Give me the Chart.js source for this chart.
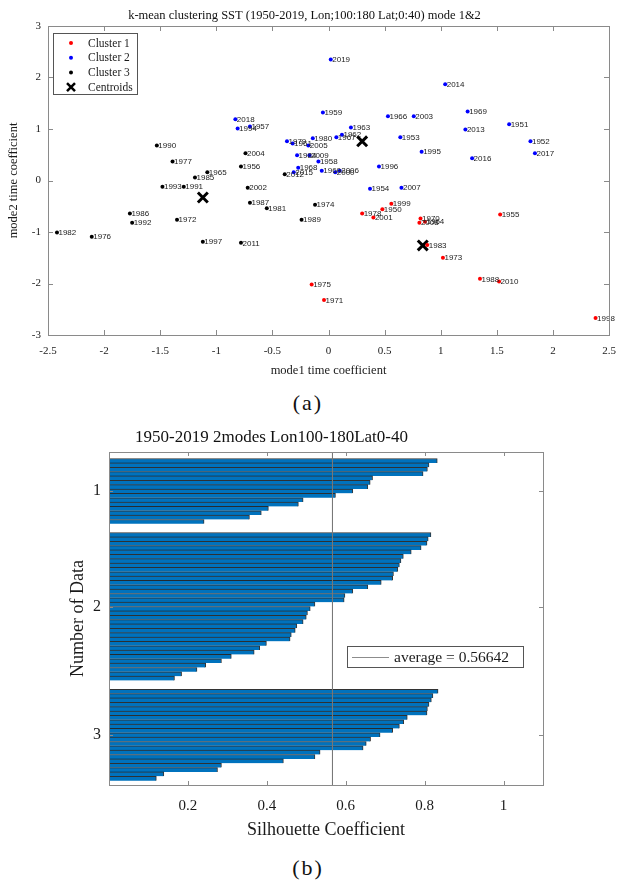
<!DOCTYPE html>
<html>
<head>
<meta charset="utf-8">
<script src="https://cdn.jsdelivr.net/npm/chart.js@4.4.0/dist/chart.umd.min.js"></script>
<style>
html, body { margin: 0; padding: 0; background: #fff; }
#wrap { position: relative; width: 628px; height: 881px; overflow: hidden; }
#boxA { position: absolute; left: 0; top: 0; width: 628px; height: 390px; }
#boxB { position: absolute; left: 0; top: 418px; width: 628px; height: 425px; }
.cap { position: absolute; left: -6px; width: 628px; text-align: center;
       font: 22px "Liberation Serif", serif; letter-spacing: 2px; color: #111; line-height: 26px; }
</style>
</head>
<body>
<div id="wrap">
  <div id="boxA"><canvas id="scatter"></canvas></div>
  <div class="cap" style="top:390px">(a)</div>
  <div id="boxB"><canvas id="silh"></canvas></div>
  <div class="cap" style="top:855px">(b)</div>
</div>
<script>
// ---- (a) k-means scatter ----
const c1Years = [1950, 1955, 1964, 1970, 1971, 1973, 1975, 1978, 1983, 1988, 1998, 1999, 2001, 2008, 2010];
const c1X = [0.48, 1.53, 0.86, 0.82, -0.04, 1.02, -0.15, 0.30, 0.88, 1.35, 2.38, 0.56, 0.40, 0.81, 1.52];
const c1Y = [-0.56, -0.66, -0.80, -0.74, -2.32, -1.50, -2.02, -0.64, -1.25, -1.91, -2.67, -0.45, -0.72, -0.82, -1.96];

const c2Years = [1951, 1952, 1953, 1954, 1957, 1958, 1959, 1960, 1961, 1962, 1963, 1966, 1967, 1968, 1969, 1979, 1980,
                 1984, 1994, 1995, 1996, 2000, 2003, 2005, 2006, 2007, 2009, 2013, 2014, 2015, 2016, 2017, 2018, 2019];
const c2X = [1.61, 1.80, 0.64, 0.37, -0.70, -0.09, -0.05, -0.06, -0.32, 0.12, 0.20, 0.53, 0.07, -0.27, 1.24, -0.37, -0.14,
             -0.28, -0.81, 0.83, 0.45, 0.06, 0.76, -0.18, 0.10, 0.65, -0.17, 1.22, 1.04, -0.31, 1.28, 1.84, -0.83, 0.02];
const c2Y = [1.09, 0.76, 0.84, -0.16, 1.05, 0.37, 1.32, 0.19, 0.72, 0.89, 1.03, 1.25, 0.84, 0.25, 1.34, 0.76, 0.82,
             0.49, 1.01, 0.56, 0.27, 0.16, 1.25, 0.68, 0.19, -0.14, 0.49, 0.99, 1.87, 0.16, 0.43, 0.53, 1.19, 2.35];

const c3Years = [1956, 1965, 1972, 1974, 1976, 1977, 1981, 1982, 1985, 1986, 1987, 1989, 1990, 1991, 1992, 1993, 1997, 2002, 2004, 2011, 2012];
const c3X = [-0.78, -1.08, -1.35, -0.12, -2.11, -1.39, -0.55, -2.42, -1.19, -1.77, -0.70, -0.24, -1.53, -1.29, -1.75, -1.48, -1.12, -0.72, -0.74, -0.78, -0.39];
const c3Y = [0.27, 0.16, -0.76, -0.47, -1.09, 0.37, -0.54, -1.01, 0.06, -0.64, -0.43, -0.76, 0.68, -0.12, -0.82, -0.12, -1.19, -0.14, 0.53, -1.21, 0.12];

const centX = [0.84, 0.30, -1.12];
const centY = [-1.26, 0.76, -0.33];

const xTicksA = [-2.5, -2, -1.5, -1, -0.5, 0, 0.5, 1, 1.5, 2, 2.5];
const yTicksA = [-3, -2, -1, 0, 1, 2, 3];

// ---- (b) silhouette values per cluster (sorted) ----
const sil1 = [0.832, 0.811, 0.807, 0.796, 0.668, 0.662, 0.656, 0.618, 0.574, 0.492, 0.480, 0.404, 0.386, 0.356, 0.241];
const sil2 = [0.816, 0.809, 0.806, 0.791, 0.766, 0.746, 0.740, 0.736, 0.732, 0.721, 0.719, 0.690, 0.656, 0.618, 0.598, 0.596,
              0.522, 0.510, 0.503, 0.500, 0.492, 0.476, 0.472, 0.462, 0.459, 0.399, 0.382, 0.368, 0.310, 0.285, 0.245, 0.223, 0.184, 0.166];
const sil3 = [0.834, 0.821, 0.817, 0.811, 0.807, 0.806, 0.756, 0.747, 0.736, 0.719, 0.687, 0.663, 0.652, 0.644,
              0.535, 0.522, 0.442, 0.285, 0.275, 0.139, 0.120];
const clusterNames = ['1', '2', '3'];
const xTicksB = [0.2, 0.4, 0.6, 0.8, 1];
const silAverage = 0.56642;

const serif = '"Liberation Serif", "Times New Roman", serif';
const inkColor = '#1a1a1a';

const pts = (xs, ys) => xs.map((v, i) => ({ x: v, y: ys[i] }));

// MATLAB-like box with inward ticks on all four sides
const boxFrame = {
    id: 'boxFrame',
    afterDraw(chart, args, opts) {
        const { ctx, chartArea: { left, right, top, bottom }, scales: { x, y } } = chart;
        const len = opts.len || 5;
        ctx.save();
        ctx.strokeStyle = opts.color || '#8a8a8a';
        ctx.lineWidth = 1;
        ctx.beginPath();
        x.ticks.forEach(t => {
            const px = Math.round(x.getPixelForValue(t.value)) + 0.5;
            ctx.moveTo(px, bottom); ctx.lineTo(px, bottom - len);
            ctx.moveTo(px, top); ctx.lineTo(px, top + len);
        });
        y.ticks.forEach(t => {
            const py = Math.round(y.getPixelForValue(t.value)) + 0.5;
            ctx.moveTo(left, py); ctx.lineTo(left + len, py);
            ctx.moveTo(right, py); ctx.lineTo(right - len, py);
        });
        ctx.stroke();
        ctx.strokeRect(Math.round(left) + 0.5, Math.round(top) + 0.5, Math.round(right - left), Math.round(bottom - top));
        ctx.restore();
    }
};

// year text next to every scatter point
const yearLabels = {
    id: 'yearLabels',
    afterDatasetsDraw(chart) {
        const ctx = chart.ctx;
        ctx.save();
        ctx.font = '8px "Liberation Sans", Arial, sans-serif';
        ctx.fillStyle = '#222';
        ctx.textBaseline = 'middle';
        chart.data.datasets.forEach((ds, i) => {
            if (!ds.years) return;
            chart.getDatasetMeta(i).data.forEach((pt, j) => {
                ctx.fillText(String(ds.years[j]), pt.x + 1.5, pt.y + 0.5);
            });
        });
        ctx.restore();
    }
};

// legend boxes drawn inside the plot area
const scatterLegend = {
    id: 'scatterLegend',
    afterDraw(chart) {
        const ctx = chart.ctx;
        const bx = 53, by = 33, bw = 84, bh = 61;
        ctx.save();
        ctx.fillStyle = '#fff';
        ctx.fillRect(bx, by, bw, bh);
        ctx.strokeStyle = '#555';
        ctx.lineWidth = 1;
        ctx.strokeRect(bx + 0.5, by + 0.5, bw, bh);
        ctx.font = '11.5px ' + serif;
        ctx.textBaseline = 'middle';
        chart.data.datasets.forEach((ds, i) => {
            const cy = by + 10 + i * 14.7;
            const mx = bx + 18;
            if (ds.years) {
                ctx.fillStyle = ds.pointBackgroundColor;
                ctx.beginPath(); ctx.arc(mx, cy, 2, 0, Math.PI * 2); ctx.fill();
            } else {
                ctx.strokeStyle = '#000'; ctx.lineWidth = 2.5;
                ctx.beginPath();
                ctx.moveTo(mx - 4, cy - 4); ctx.lineTo(mx + 4, cy + 4);
                ctx.moveTo(mx + 4, cy - 4); ctx.lineTo(mx - 4, cy + 4);
                ctx.stroke();
            }
            ctx.fillStyle = inkColor;
            ctx.fillText(ds.label, bx + 35, cy + 0.5);
        });
        ctx.restore();
    }
};

const avgLegend = {
    id: 'avgLegend',
    afterDraw(chart) {
        const ctx = chart.ctx;
        const bx = 347, by = 228, bw = 176, bh = 21;
        ctx.save();
        ctx.fillStyle = '#fff';
        ctx.fillRect(bx, by, bw, bh);
        ctx.strokeStyle = '#555';
        ctx.lineWidth = 1;
        ctx.strokeRect(bx + 0.5, by + 0.5, bw, bh);
        ctx.strokeStyle = '#8c8c8c';
        ctx.beginPath(); ctx.moveTo(bx + 5, by + 11.5); ctx.lineTo(bx + 42, by + 11.5); ctx.stroke();
        ctx.font = '15.5px ' + serif;
        ctx.fillStyle = inkColor;
        ctx.textBaseline = 'middle';
        ctx.fillText('average = ' + silAverage, bx + 47, by + 11.5);
        ctx.restore();
    }
};

new Chart(document.getElementById('scatter'), {
    type: 'scatter',
    data: {
        datasets: [
            { label: 'Cluster 1', data: pts(c1X, c1Y), years: c1Years, pointBackgroundColor: '#ff0000', pointBorderWidth: 0, pointRadius: 2 },
            { label: 'Cluster 2', data: pts(c2X, c2Y), years: c2Years, pointBackgroundColor: '#0000ff', pointBorderWidth: 0, pointRadius: 2 },
            { label: 'Cluster 3', data: pts(c3X, c3Y), years: c3Years, pointBackgroundColor: '#000000', pointBorderWidth: 0, pointRadius: 2 },
            { label: 'Centroids', data: pts(centX, centY), pointStyle: 'crossRot', pointRadius: 7, pointBorderWidth: 3, pointBorderColor: '#000' }
        ]
    },
    options: {
        responsive: true,
        maintainAspectRatio: false,
        animation: false,
        layout: { padding: { left: 0, right: 19, top: 0, bottom: 0 } },
        plugins: {
            legend: { display: false },
            tooltip: { enabled: false },
            title: {
                display: true,
                text: 'k-mean clustering SST (1950-2019, Lon;100:180 Lat;0:40) mode 1&2',
                font: { family: serif, size: 12.5, weight: 'normal' },
                color: '#111',
                padding: { top: 8, bottom: 3 }
            },
            boxFrame: { len: 5 }
        },
        scales: {
            x: {
                type: 'linear', min: -2.5, max: 2.5, offset: false,
                grid: { display: false, drawTicks: false },
                border: { display: false },
                afterBuildTicks: s => { s.ticks = xTicksA.map(v => ({ value: v })); },
                afterFit: s => { s.height = 55; },
                ticks: { font: { family: serif, size: 11 }, color: inkColor, padding: 10, maxRotation: 0, autoSkip: false, callback: v => String(v) },
                title: { display: true, text: 'mode1 time coefficient', font: { family: serif, size: 12.5 }, color: inkColor, padding: { top: 0, bottom: 11.5 } }
            },
            y: {
                type: 'linear', min: -3, max: 3, offset: false,
                grid: { display: false, drawTicks: false },
                border: { display: false },
                afterBuildTicks: s => { s.ticks = yTicksA.map(v => ({ value: v })); },
                afterFit: s => { s.width = 48; },
                ticks: { font: { family: serif, size: 11 }, color: inkColor, padding: 7, autoSkip: false, callback: v => String(v) },
                title: { display: true, text: 'mode2 time coefficient', font: { family: serif, size: 12.5 }, color: inkColor, padding: { top: 6.5, bottom: 0 } }
            }
        }
    },
    plugins: [boxFrame, yearLabels, scatterLegend]
});

// bar rows: clusters stacked top to bottom with a gap of two rows
const silClusters = [sil1, sil2, sil3];
const barRows = [];
const clusterCenters = [];
let row = 2;
silClusters.forEach(vals => {
    const first = row;
    vals.forEach(v => { barRows.push({ x: v, y: row }); row++; });
    clusterCenters.push((first + row - 1) / 2);
    row += 2;
});
const rowMax = row - 1.5;

new Chart(document.getElementById('silh'), {
    type: 'bar',
    data: {
        datasets: [
            {
                type: 'bar', data: barRows, order: 2,
                backgroundColor: 'rgb(0,114,189)',
                borderColor: 'rgba(15,15,15,0.85)',
                borderWidth: { top: 1, right: 1, bottom: 0, left: 0 },
                borderSkipped: false,
                barPercentage: 1, categoryPercentage: 1
            },
            {
                type: 'line', order: 1,
                data: [{ x: silAverage, y: 0 }, { x: silAverage, y: rowMax }],
                borderColor: 'rgba(120,120,120,0.85)', borderWidth: 1, pointRadius: 0
            }
        ]
    },
    options: {
        indexAxis: 'y',
        responsive: true,
        maintainAspectRatio: false,
        animation: false,
        layout: { padding: { left: 0, right: 85, top: 0, bottom: 0 } },
        plugins: {
            legend: { display: false },
            tooltip: { enabled: false },
            title: {
                display: true,
                text: '1950-2019 2modes Lon100-180Lat0-40',
                font: { family: serif, size: 17, weight: 'normal' },
                color: '#111',
                padding: { top: 9, bottom: 4.6 }
            },
            boxFrame: { len: 4 }
        },
        scales: {
            x: {
                type: 'linear', min: 0, max: 1.1, offset: false,
                grid: { display: false, drawTicks: false, offset: false },
                border: { display: false },
                afterBuildTicks: s => { s.ticks = xTicksB.map(v => ({ value: v })); },
                afterFit: s => { s.height = 58; },
                ticks: { font: { family: serif, size: 15 }, color: inkColor, padding: 12, maxRotation: 0, autoSkip: false, callback: v => String(v) },
                title: { display: true, text: 'Silhouette Coefficient', font: { family: serif, size: 18 }, color: inkColor, padding: { top: 0, bottom: 2.2 } }
            },
            y: {
                type: 'linear', min: 0, max: rowMax, reverse: true, offset: false,
                grid: { display: false, drawTicks: false, offset: false },
                border: { display: false },
                afterBuildTicks: s => { s.ticks = clusterCenters.map(v => ({ value: v })); },
                afterFit: s => { s.width = 109; },
                ticks: { font: { family: serif, size: 16 }, color: inkColor, padding: 8, autoSkip: false, callback: (v, i) => clusterNames[i] },
                title: { display: true, text: 'Number of Data', font: { family: serif, size: 18 }, color: inkColor, padding: { top: 67, bottom: 0 } }
            }
        }
    },
    plugins: [boxFrame, avgLegend]
});
</script>
</body>
</html>
